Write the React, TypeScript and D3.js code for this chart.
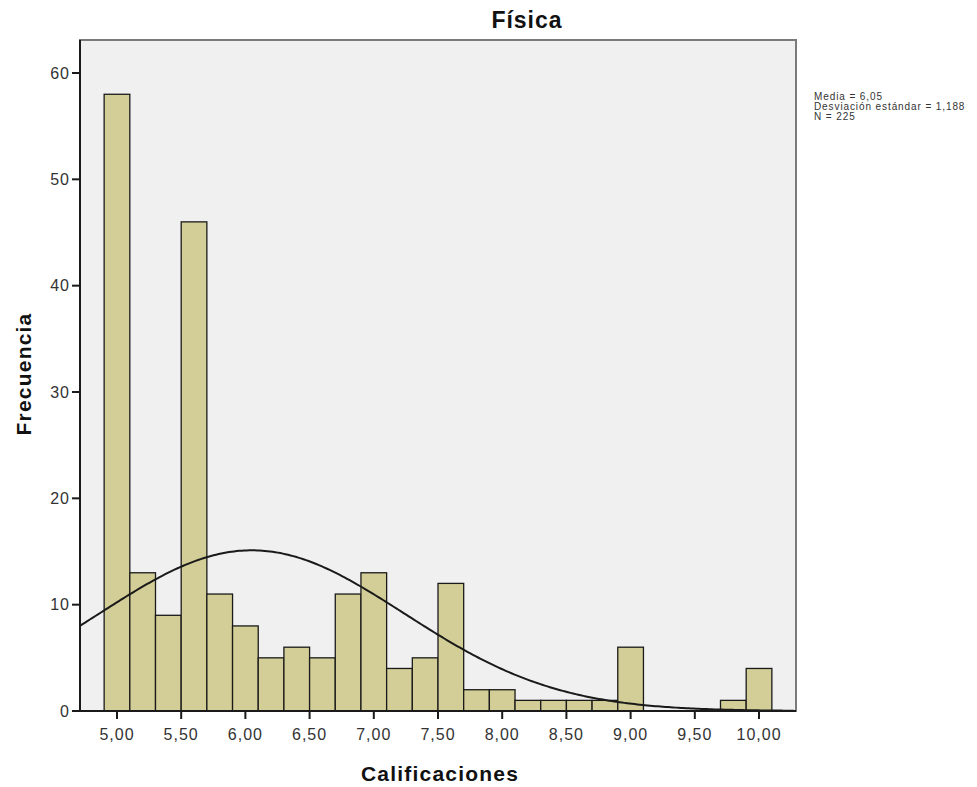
import React from "react";
import * as d3 from "d3";

const binStarts = [4.9, 5.1, 5.3, 5.5, 5.7, 5.9, 6.1, 6.3, 6.5, 6.7, 6.9, 7.1, 7.3, 7.5, 7.7, 7.9, 8.1, 8.3, 8.5, 8.7, 8.9, 9.1, 9.3, 9.5, 9.7, 9.9];
const counts = [58, 13, 9, 46, 11, 8, 5, 6, 5, 11, 13, 4, 5, 12, 2, 2, 1, 1, 1, 1, 6, 0, 0, 0, 1, 4];
const binWidth = 0.2;
const xTicks = [5, 5.5, 6, 6.5, 7, 7.5, 8, 8.5, 9, 9.5, 10];
const yTicks = [0, 10, 20, 30, 40, 50, 60];
const mean = 6.05;
const sd = 1.188;
const n = 225;
const legendLines = ["Media = 6,05", "Desviación estándar = 1,188", "N = 225"];

export default function App() {
  const W = 977, H = 787;
  const left = 80, right = 796, top = 40, bottom = 711;
  const x = d3.scaleLinear().domain([4.712, 10.288]).range([left, right]);
  const y = d3.scaleLinear().domain([0, 60]).range([bottom, 73]);
  const fmt = (v: number) => v.toFixed(2).replace(".", ",");
  const curveX = d3.range(4.712, 10.29, 0.02);
  const pdf = (v: number) => (n * binWidth) / (sd * Math.sqrt(2 * Math.PI)) * Math.exp(-0.5 * ((v - mean) / sd) ** 2);
  const line = d3.line<number>().x((v) => x(v)).y((v) => y(pdf(v)));
  const font = "Arial, 'Liberation Sans', sans-serif";
  return (
    <svg width={W} height={H} style={{ position: "absolute", left: 0, top: 0, background: "#fff" }} fontFamily={font}>
      <rect x={left} y={top} width={right - left} height={bottom - top} fill="#f0f0f0" stroke="#7a7a7a" strokeWidth={2} />
      {binStarts.map((b, i) =>
        counts[i] > 0 ? (
          <rect key={i} x={x(b)} y={y(counts[i])} width={x(b + binWidth) - x(b)} height={y(0) - y(counts[i])} fill="#d3ce97" stroke="#1a1a1a" strokeWidth={1.3} />
        ) : null
      )}
      <path d={line(curveX) || ""} fill="none" stroke="#1a1a1a" strokeWidth={2} />
      <line x1={left} x2={left} y1={top} y2={bottom} stroke="#1a1a1a" strokeWidth={2} />
      <line x1={left} x2={right} y1={bottom} y2={bottom} stroke="#1a1a1a" strokeWidth={2} />
      {yTicks.map((t) => (
        <g key={t}>
          <line x1={left - 8} x2={left} y1={y(t)} y2={y(t)} stroke="#1a1a1a" strokeWidth={2} />
          <text x={left - 10} y={y(t)} dy="0.36em" textAnchor="end" fontSize={16} letterSpacing={1} fill="#333">{t}</text>
        </g>
      ))}
      {xTicks.map((t) => (
        <g key={t}>
          <line x1={x(t)} x2={x(t)} y1={bottom} y2={bottom + 8} stroke="#1a1a1a" strokeWidth={2} />
          <text x={x(t)} y={bottom + 29} textAnchor="middle" fontSize={16} letterSpacing={1} fill="#333">{fmt(t)}</text>
        </g>
      ))}
      <text x={527} y={28} textAnchor="middle" fontSize={23} letterSpacing={1} fontWeight="bold" fill="#111">Física</text>
      <text x={440} y={781} textAnchor="middle" fontSize={21} letterSpacing={1.2} fontWeight="bold" fill="#111">Calificaciones</text>
      <text transform={`translate(31,374) rotate(-90)`} textAnchor="middle" fontSize={21} letterSpacing={1.2} fontWeight="bold" fill="#111">Frecuencia</text>
      {legendLines.map((l, i) => (
        <text key={i} x={814} y={100 + i * 10} fontSize={10} letterSpacing={0.9} fill="#333">{l}</text>
      ))}
    </svg>
  );
}
